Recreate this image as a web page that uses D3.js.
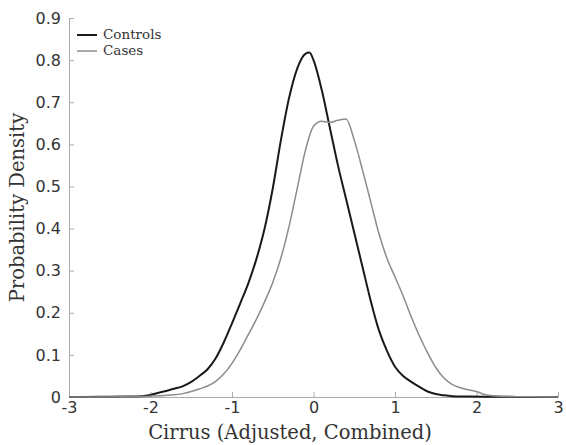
<!DOCTYPE html>
<html>
<head>
<meta charset="utf-8">
<script src="https://cdn.jsdelivr.net/npm/d3@7"></script>
<style>
  body { margin: 0; background: #fff; }
  .axis path, .axis line { stroke: #aaa; }
  .axis text { font-family: "DejaVu Sans", sans-serif; font-size: 16px; fill: #333; }
  .title { font-family: "DejaVu Serif", serif; font-size: 19.5px; fill: #333; }
  .legend text { font-family: "DejaVu Serif", serif; font-size: 13.5px; fill: #333; }
</style>
</head>
<body>
<div id="chart"></div>
<script>
// density estimates
var controlsX = [-3, -2.6, -2.3, -2.1, -2.0, -1.9, -1.8, -1.7, -1.6, -1.5, -1.4, -1.3, -1.2, -1.1, -1.0, -0.9, -0.8, -0.7, -0.6, -0.5, -0.4, -0.3, -0.2, -0.1, -0.05, 0.0, 0.1, 0.2, 0.3, 0.4, 0.5, 0.6, 0.7, 0.8, 0.9, 1.0, 1.1, 1.2, 1.3, 1.4, 1.5, 1.6, 1.7, 1.9, 2.2, 3];
var controlsY = [0, 0.0005, 0.001, 0.002, 0.005, 0.01, 0.015, 0.02, 0.026, 0.036, 0.05, 0.066, 0.092, 0.13, 0.175, 0.222, 0.27, 0.328, 0.4, 0.495, 0.61, 0.71, 0.78, 0.815, 0.818, 0.80, 0.73, 0.64, 0.55, 0.47, 0.39, 0.31, 0.23, 0.16, 0.11, 0.072, 0.05, 0.036, 0.024, 0.013, 0.007, 0.004, 0.002, 0.001, 0.0005, 0];

var casesX = [-3, -2.3, -2.0, -1.8, -1.6, -1.5, -1.4, -1.3, -1.2, -1.1, -1.0, -0.9, -0.8, -0.7, -0.6, -0.5, -0.4, -0.3, -0.2, -0.1, 0.0, 0.1, 0.2, 0.3, 0.4, 0.5, 0.6, 0.7, 0.8, 0.9, 1.0, 1.1, 1.2, 1.3, 1.4, 1.5, 1.6, 1.7, 1.8, 1.9, 2.0, 2.1, 2.2, 2.4, 2.7, 3];
var casesY = [0, 0.0005, 0.002, 0.004, 0.008, 0.013, 0.019, 0.026, 0.037, 0.055, 0.08, 0.112, 0.148, 0.185, 0.226, 0.272, 0.33, 0.405, 0.495, 0.585, 0.643, 0.655, 0.652, 0.657, 0.66, 0.61, 0.54, 0.465, 0.39, 0.33, 0.285, 0.24, 0.19, 0.145, 0.105, 0.07, 0.045, 0.03, 0.022, 0.017, 0.013, 0.006, 0.003, 0.001, 0.0003, 0];

var xTicks = [-3, -2, -1, 0, 1, 2, 3];
var yTicks = [0, 0.1, 0.2, 0.3, 0.4, 0.5, 0.6, 0.7, 0.8, 0.9];
var seriesNames = ["Controls", "Cases"];
var seriesColors = ["#1a1a1a", "#8c8c8c"];

var width = 566, height = 445;
var margin = { top: 18, right: 8, bottom: 48, left: 69 };

var svg = d3.select("#chart").append("svg")
  .attr("width", width)
  .attr("height", height);

var x = d3.scaleLinear().domain([-3, 3]).range([margin.left, 558]);
var y = d3.scaleLinear().domain([0, 0.9]).range([397, margin.top]);

// plain hyphen for negatives, like the original
var xAxis = d3.axisBottom(x).tickValues(xTicks).tickSize(-5).tickSizeOuter(0).tickPadding(5)
  .tickFormat(function(d) { return String(d); });
var yAxis = d3.axisLeft(y).tickValues(yTicks).tickSize(-5).tickSizeOuter(0).tickPadding(8)
  .tickFormat(function(d) { return d === 0 ? "0" : d3.format(".1f")(d); });

svg.append("g")
  .attr("class", "x axis")
  .attr("transform", "translate(0," + y(0) + ")")
  .call(xAxis);

svg.append("g")
  .attr("class", "y axis")
  .attr("transform", "translate(" + x(-3) + ",0)")
  .call(yAxis);

var line = d3.line()
  .x(function(d) { return x(d[0]); })
  .y(function(d) { return y(d[1]); })
  .curve(d3.curveMonotoneX);

var series = [d3.zip(controlsX, controlsY), d3.zip(casesX, casesY)];

svg.selectAll("path.density")
  .data(series)
  .enter().append("path")
  .attr("class", "density")
  .attr("fill", "none")
  .attr("stroke", function(d, i) { return seriesColors[i]; })
  .attr("stroke-width", function(d, i) { return i === 0 ? 2 : 1.5; })
  .attr("d", line);

// axis titles
svg.append("text")
  .attr("class", "title")
  .attr("x", 290)
  .attr("y", 439)
  .attr("text-anchor", "middle")
  .text("Cirrus (Adjusted, Combined)");

svg.append("text")
  .attr("class", "title")
  .attr("transform", "translate(24," + y(0.45) + ") rotate(-90)")
  .attr("text-anchor", "middle")
  .text("Probability Density");

// legend
var legend = svg.append("g").attr("class", "legend");
seriesNames.forEach(function(name, i) {
  var ly = 35 + i * 16;
  legend.append("line")
    .attr("x1", 77).attr("x2", 97)
    .attr("y1", ly).attr("y2", ly)
    .attr("stroke", seriesColors[i])
    .attr("stroke-width", i === 0 ? 2 : 1.5);
  legend.append("text")
    .attr("x", 103).attr("y", ly + 4)
    .text(name);
});
</script>
</body>
</html>
